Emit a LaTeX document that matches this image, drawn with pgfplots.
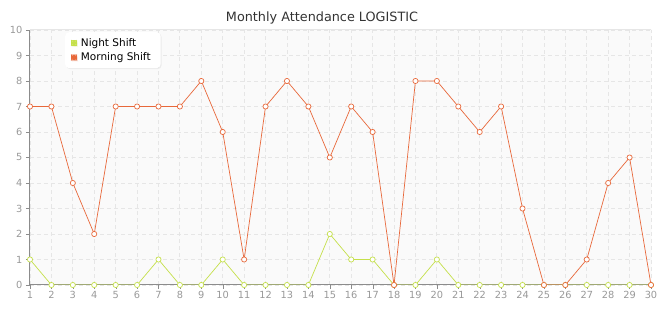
\documentclass[border=0pt]{standalone}
\usepackage{fontspec}
\setmainfont{DejaVu Sans}
\usepackage{pgfplots}
\pgfplotsset{compat=1.18}
\usetikzlibrary{patterns,shadows}
\definecolor{night}{HTML}{C5E04A}
\definecolor{morning}{HTML}{E8683A}
\definecolor{tickc}{HTML}{999999}
\definecolor{gridc}{HTML}{E6E6E6}
\begin{document}
\begin{tikzpicture}[x=1pt,y=1pt]
\useasboundingbox (-30,-35) rectangle (635,285);
\begin{axis}[
  at={(0,0)}, anchor=origin,
  scale only axis, width=621pt, height=255pt,
  xmin=1, xmax=30, ymin=0, ymax=10,
  xtick={1,...,30}, ytick={0,...,10},
  axis background/.style={fill=black!2},
  grid=both, grid style={gridc, dash pattern=on 4pt off 3pt, line width=0.8pt},
  axis line style={gridc, line width=1pt},
  separate axis lines,
  x axis line style={black!45},
  y axis line style={black!45},
  axis x line*=bottom, axis y line*=left,
  tick style={black!45}, major tick length=4pt,
  tick align=outside,
  xtick pos=bottom, ytick pos=left,
  ticklabel style={font=\fontsize{9.8}{11}\selectfont, text=tickc},
  xticklabel style={yshift=1pt},
  /pgf/number format/assume math mode=true,
  legend cell align=left,
  legend style={at={(35pt,253pt)}, anchor=north west, draw=none, fill=white,
     rounded corners=4pt, drop shadow={opacity=0.12, shadow xshift=1pt, shadow yshift=-1pt},
     font=\fontsize{10.5}{12}\selectfont, inner xsep=6pt, inner ysep=4pt, row sep=1pt,
     nodes={inner xsep=4pt}},
  legend image code/.code={\fill[#1] (0pt,-2.5pt) rectangle (5pt,2.5pt);},
  every axis plot/.append style={line width=0.7pt, mark=*, mark size=2.6pt, mark options={fill=white, line width=0.7pt}},
]
\addplot[night, mark options={draw=night, fill=white}] coordinates {
(1,1)(2,0)(3,0)(4,0)(5,0)(6,0)(7,1)(8,0)(9,0)(10,1)(11,0)(12,0)(13,0)(14,0)(15,2)
(16,1)(17,1)(18,0)(19,0)(20,1)(21,0)(22,0)(23,0)(24,0)(25,0)(26,0)(27,0)(28,0)(29,0)(30,0)};
\addlegendentry{Night Shift}
\addplot[morning, mark options={draw=morning, fill=white}] coordinates {
(1,7)(2,7)(3,4)(4,2)(5,7)(6,7)(7,7)(8,7)(9,8)(10,6)(11,1)(12,7)(13,8)(14,7)(15,5)
(16,7)(17,6)(18,0)(19,8)(20,8)(21,7)(22,6)(23,7)(24,3)(25,0)(26,0)(27,1)(28,4)(29,5)(30,0)};
\addlegendentry{Morning Shift}
\draw[gridc, line width=1pt] (rel axis cs:0,1) -- (rel axis cs:1,1) -- (rel axis cs:1,0);
\end{axis}
\node[anchor=base, font=\fontsize{12.8}{14}\selectfont, text=black!80, inner sep=0pt] at (292,263) {Monthly Attendance LOGISTIC};
\end{tikzpicture}
\end{document}
